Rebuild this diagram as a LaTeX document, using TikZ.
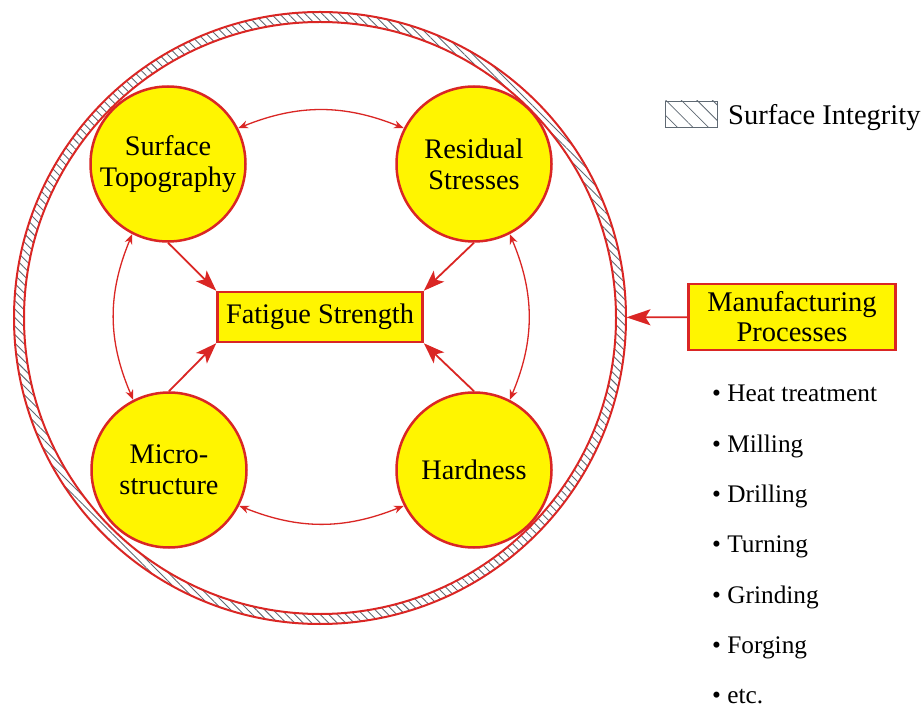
\documentclass[tikz,border=0pt]{standalone}
\usepackage{fontspec}
\setmainfont{Liberation Serif}
\usepackage{tikz}
\usetikzlibrary{positioning, arrows.meta, patterns.meta}
\definecolor{ringred}{RGB}{218,38,36}
\definecolor{boxyellow}{RGB}{255,245,0}
\definecolor{hatchgray}{RGB}{95,105,115}

\begin{document}
\begin{tikzpicture}
			[x=1pt, y=1pt, node distance=50.3pt]
			
			\tikzstyle{bubble} = [circle, minimum size=155pt, inner sep=0pt, draw=ringred, line width=2.5pt, fill=boxyellow, align=center, font=\fontsize{28.3}{31}\selectfont]
			
			\tikzstyle{target} = [rectangle, minimum width=205pt, minimum height=50pt, draw=ringred, line width=2.5pt, fill=boxyellow, font=\fontsize{28.3}{31}\selectfont]
			
			\tikzstyle{source} = [rectangle, minimum width=207pt, minimum height=66pt, draw=ringred, line width=2.5pt, fill=boxyellow, align=center, font=\fontsize{28.5}{30}\selectfont]
			
			\tikzstyle{item} = [inner sep=0pt, anchor=base west, font=\fontsize{25.3}{30}\selectfont]
			
			\tikzstyle{push} = [draw=ringred, line width=1.8pt, -{Stealth[length=21pt, width=15pt, inset=5pt]}]
			
			\tikzstyle{link} = [draw=ringred, line width=1.3pt, {Stealth[length=10pt, width=8pt]}-{Stealth[length=10pt, width=8pt]}]
			
			\useasboundingbox (0,0) rectangle (923,710);
			
			% surface integrity ring
			\node (ring) [circle, minimum size=612pt, inner sep=0pt, draw=ringred, line width=2pt, pattern={Lines[angle=-45, distance=6pt, line width=0.9pt]}, pattern color=hatchgray] at (320,392) {};
			\node (core) [circle, minimum size=592pt, inner sep=0pt, draw=ringred, line width=2pt, fill=white] at (320,392) {};
			
			\node (fs) [target] at (320,393) {Fatigue Strength};
			\node (st) [bubble] at (168,546) {Surface\\Topography};
			\node (rs) [bubble] at (474,546) {Residual\\Stresses};
			\node (ms) [bubble] at (169,240) {Micro-\\structure};
			\node (hd) [bubble] at (474,240) {Hardness};
			
			\draw [push] (st.south) -- (fs.north west);
			\draw [push] (rs.south) -- (fs.north east);
			\draw [push] (ms.north) -- (fs.south west);
			\draw [push] (hd.north) -- (fs.south east);
			
			\draw [link] (st.27) to[bend left=22] (rs.153);
			\draw [link] (ms.117) to[bend left=23] (st.243);
			\draw [link] (ms.333) to[bend right=22] (hd.207);
			\draw [link] (hd.63) to[bend right=23] (rs.297);
			
			\node (mp) [source] at (792,393) {Manufacturing\\Processes};
			\draw [draw=ringred, line width=1.8pt, -{Stealth[length=24pt, width=16pt, inset=5pt]}] (mp) -- (ring);
			
			% legend
			\node (leg) [rectangle, minimum width=52pt, minimum height=26pt, draw=hatchgray, line width=0.8pt, pattern={Lines[angle=-45, distance=11pt, line width=0.8pt]}, pattern color=hatchgray] at (691,596) {};
			\node (legtxt) [item, font=\fontsize{28.5}{30}\selectfont] at (728,585) {Surface Integrity};
			
			% processes
			\node (hp1) [item] at (712,308) {• Heat treatment};
			\node (hp2) [item, below=50.3pt of hp1.base west, anchor=base west] {• Milling};
			\node (hp3) [item, below=50.3pt of hp2.base west, anchor=base west] {• Drilling};
			\node (hp4) [item, below=50.3pt of hp3.base west, anchor=base west] {• Turning};
			\node (hp5) [item, below=50.3pt of hp4.base west, anchor=base west] {• Grinding};
			\node (hp6) [item, below=50.3pt of hp5.base west, anchor=base west] {• Forging};
			\node (hp7) [item, below=50.3pt of hp6.base west, anchor=base west] {• etc.};
			
		\end{tikzpicture}
\end{document}
